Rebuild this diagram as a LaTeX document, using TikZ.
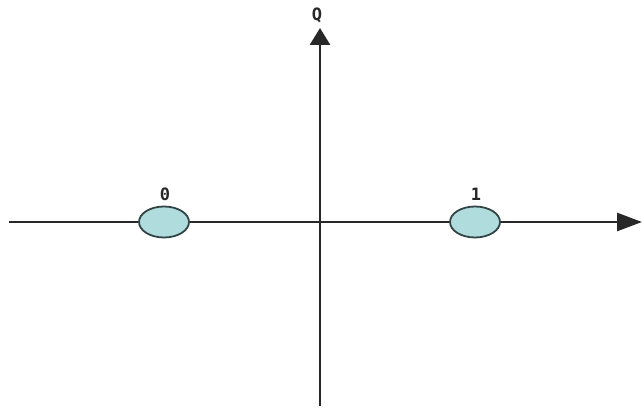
\documentclass[tikz,border=0pt]{standalone}
\usepackage{fontspec}
\newfontfamily\monofont{DejaVu Sans Mono}
\usetikzlibrary{arrows.meta,shapes.geometric}
\definecolor{axiscol}{RGB}{40,40,40}
\definecolor{ptfill}{RGB}{176,220,222}
\definecolor{ptdraw}{RGB}{50,68,68}
\begin{document}
\begin{tikzpicture}[x=1pt,y=1pt,
  axis/.style={draw=axiscol,line width=2.8pt},
  point/.style={ellipse,draw=ptdraw,fill=ptfill,line width=1.8pt,minimum width=50pt,minimum height=31pt,inner sep=0pt},
  lbl/.style={font=\monofont\bfseries\fontsize{17}{17}\selectfont,text=black!85}]
\useasboundingbox (0,0) rectangle (644,410);
\coordinate (xl) at (9,188);
\coordinate (xr) at (642,188);
\coordinate (yb) at (320,4);
\coordinate (yt) at (320,382);
\draw[axis,-{Triangle[length=25pt,width=18pt]}] (xl) -- (xr);
\draw[axis,-{Triangle[length=17pt,width=20pt]}] (yb) -- (yt);
\node[point] (p0) at (164,188) {};
\node[point] (p1) at (475,188) {};
\node[lbl] (l0) at (165,216) {0};
\node[lbl] (l1) at (476,216) {1};
\node[lbl] (q) at (317,395) {Q};
\end{tikzpicture}
\end{document}
